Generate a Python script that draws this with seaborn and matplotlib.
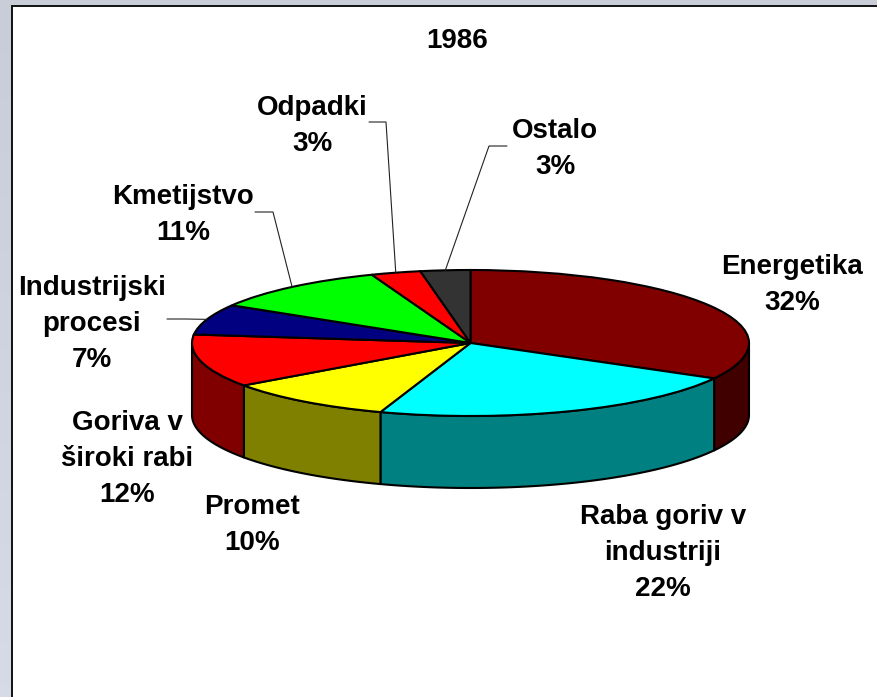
import numpy as np
import matplotlib
matplotlib.use("Agg")
import matplotlib.pyplot as plt
import seaborn as sns

# ---- data ----
title = "1986"
categories = ["Energetika", "Raba goriv v\nindustriji", "Promet", "Goriva v\nširoki rabi",
              "Industrijski\nprocesi", "Kmetijstvo", "Odpadki", "Ostalo"]
shares = [32, 22, 10, 12, 7, 11, 3, 3]
top_colors = ["#800000", "#00FFFF", "#FFFF00", "#FF0000", "#000080", "#00FF00", "#FF0000", "#333333"]
side_colors = ["#400000", "#008080", "#808000", "#800000", "#000040", "#008000", "#800000", "#1A1A1A"]

# ---- layout (pixels) ----
W, H = 878, 697
CX, CY, RX, RY, DEPTH = 470.5, 343, 278.5, 73, 72
label_pos = [(792, 285), (663, 553), (252, 525), (127, 459), (92, 324), (183, 215), (312, 126), (555, 149)]
# elbow start and elbow of the leader lines: category index -> points
leaders = {4: [(167, 319), (185, 319)], 5: [(255, 212), (273, 212)],
           6: [(369, 122), (386, 122)], 7: [(507, 146), (489, 146)]}

sns.set_theme(style="white")
plt.rcParams["font.family"] = ["Liberation Sans", "DejaVu Sans"]
top_pal = sns.color_palette(top_colors)
side_pal = sns.color_palette(side_colors)

fig = plt.figure(figsize=(W / 100, H / 100), dpi=100)

# window background
bg = fig.add_axes([0, 0, 1, 1], xlim=(0, W), ylim=(H, 0), zorder=0)
bg.axis("off")
grad = np.linspace(0, 1, 64)[:, None, None] * (np.array([214, 219, 229]) - np.array([200, 205, 215])) + np.array([200, 205, 215])
bg.imshow(grad / 255, extent=(0, W, H, 0), aspect="auto", zorder=0)
bg.add_patch(plt.Rectangle((12, 5.5), W + 20, H + 20, fc="white", ec="#111111", lw=1.4, zorder=1))


def warp(theta):
    """Slight angular distortion of the tilted 3-D view."""
    return theta + 4.5 * np.sin(np.radians(theta) / 2)


# pie: a unit circle in data units becomes the tilted ellipse
ax = fig.add_axes([0, 0, 1, 1], zorder=1)
ax.patch.set_alpha(0)
wedges, _ = ax.pie(shares, startangle=90, counterclock=False, radius=1,
                   colors=top_pal, wedgeprops=dict(edgecolor="black", linewidth=1.5, zorder=3))
ax.set_aspect("auto")
ax.set_xlim(-CX / RX, (W - CX) / RX)
ax.set_ylim(-(H - CY) / RY, CY / RY)
ax.axis("off")

cum = np.concatenate([[0], np.cumsum(shares)]) / np.sum(shares) * 360
edges = warp(cum)
edges[-1] = 360
for w, a, b in zip(wedges, edges[:-1], edges[1:]):
    w.set_theta1(90 - b)
    w.set_theta2(90 - a)

# walls of the visible front half
d = DEPTH / RY
for a, b, col in zip(edges[:-1], edges[1:], side_pal):
    lo, hi = max(a, 90), min(b, 270)
    if hi <= lo:
        continue
    t = np.radians(np.linspace(lo, hi, 80))
    x, y = np.sin(t), np.cos(t)
    ax.fill(np.r_[x, x[::-1]], np.r_[y, y[::-1] - d], fc=col, ec="black", lw=1.5, zorder=2, joinstyle="round")

# labels and text
ov = fig.add_axes([0, 0, 1, 1], xlim=(0, W), ylim=(H, 0), zorder=2)
ov.axis("off")
ov.text(457, 41, title, ha="center", va="center", fontsize=20, fontweight="bold", color="black")
for name, pct, (x, y) in zip(categories, shares, label_pos):
    ov.text(x, y, f"{name}\n{pct}%", ha="center", va="center", fontsize=20, fontweight="bold",
            color="black", linespacing=1.52, multialignment="center")

mids = np.radians((edges[:-1] + edges[1:]) / 2)
for i, pts in leaders.items():
    end = (CX + RX * np.sin(mids[i]), CY - RY * np.cos(mids[i]))
    xs, ys = zip(*pts, end)
    ov.plot(xs, ys, color="#222222", lw=0.8, solid_joinstyle="miter")

fig.savefig("out.png", dpi=100)
